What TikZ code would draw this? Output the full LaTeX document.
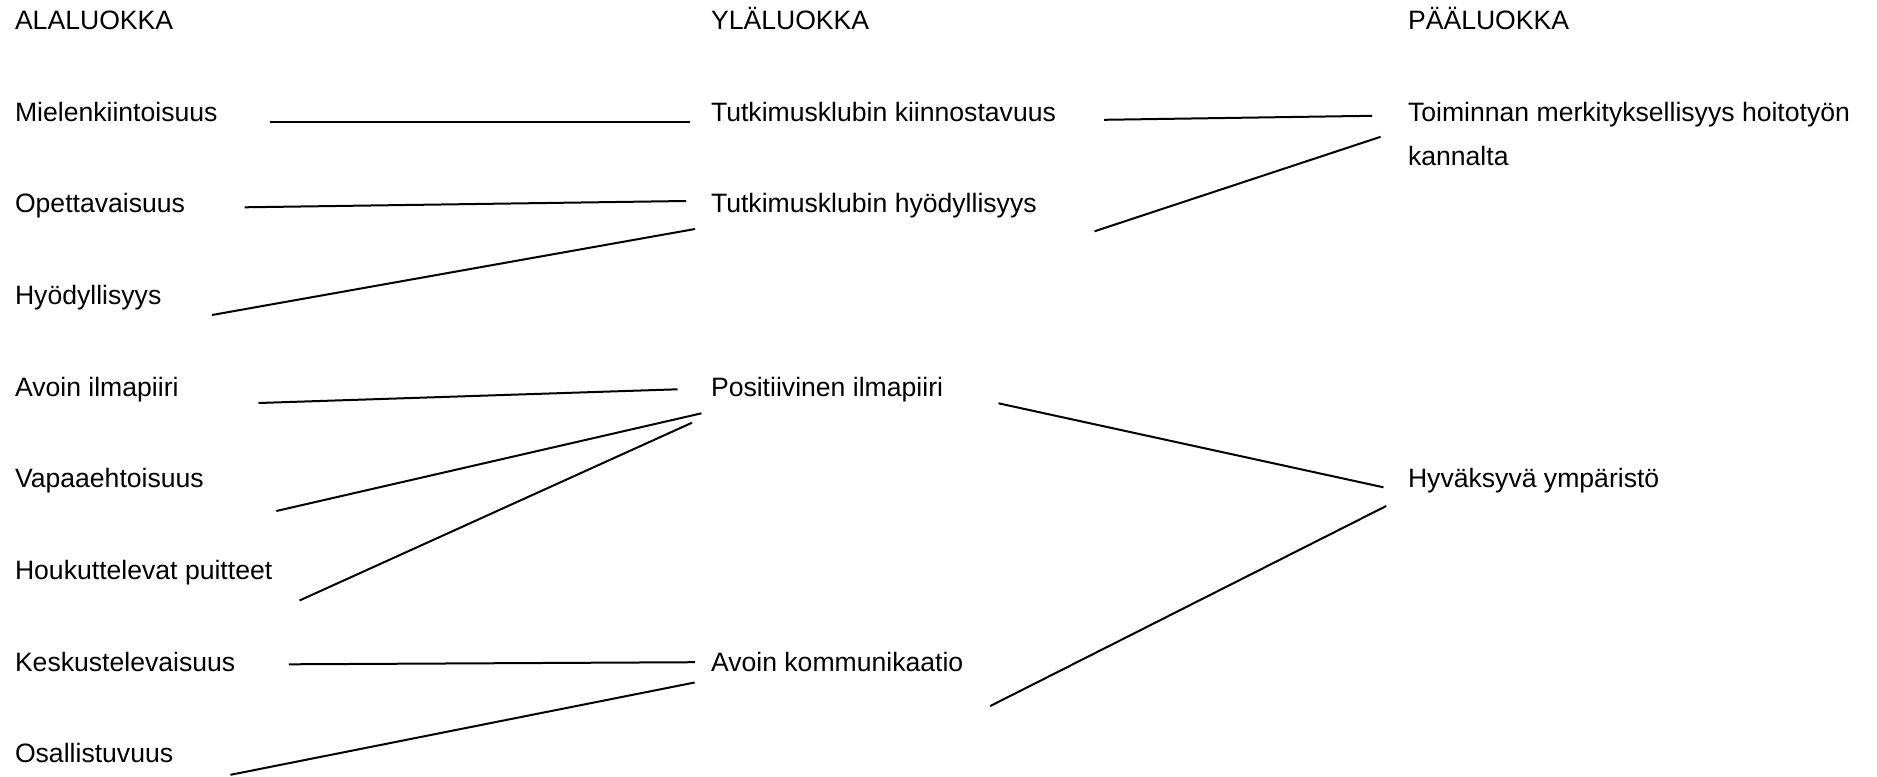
\documentclass[tikz,border=0pt]{standalone}
\usepackage{fontspec}
\setmainfont{Liberation Sans}
\begin{document}
\begin{tikzpicture}[x=0.5pt,y=-0.5pt,
  label/.style={anchor=base west,inner sep=0pt,outer sep=0pt,align=left,
    font=\fontsize{13.3pt}{22.15pt}\selectfont},
  link/.style={line width=1pt,draw=black}]
\useasboundingbox[fill=white] (0,0) rectangle (1877,776);

% column headings
\node[label] (hA) at (15,29.3)   {ALALUOKKA};
\node[label] (hY) at (711,29.3)  {YLÄLUOKKA};
\node[label] (hP) at (1408,29.3) {PÄÄLUOKKA};

% sub-categories
\node[label] (a1) at (15,121)   {Mielenkiintoisuus};
\node[label] (a2) at (15,212.7) {Opettavaisuus};
\node[label] (a3) at (15,304.4) {Hyödyllisyys};
\node[label] (a4) at (15,396.1) {Avoin ilmapiiri};
\node[label] (a5) at (15,487.8) {Vapaaehtoisuus};
\node[label] (a6) at (15,579.5) {Houkuttelevat puitteet};
\node[label] (a7) at (15,671.2) {Keskustelevaisuus};
\node[label] (a8) at (15,762.9) {Osallistuvuus};

% upper categories
\node[label] (y1) at (711,121)   {Tutkimusklubin kiinnostavuus};
\node[label] (y2) at (711,212.7) {Tutkimusklubin hyödyllisyys};
\node[label] (y3) at (711,396.1) {Positiivinen ilmapiiri};
\node[label] (y4) at (711,671.2) {Avoin kommunikaatio};

% main categories (the two-line label sits on the baseline of its last line)
\node[label] (p1) at (1408,165.5) {Toiminnan merkityksellisyys hoitotyön\\kannalta};
\node[label] (p2) at (1408,487.8) {Hyväksyvä ympäristö};

% line end points
\coordinate (a1r) at (270,121.5);   \coordinate (y1a) at (690,121.5);
\coordinate (a2r) at (244.6,207.3); \coordinate (y2a) at (686,201);
\coordinate (a3r) at (212,315);     \coordinate (y2b) at (695,229);
\coordinate (a4r) at (258.5,403);   \coordinate (y3a) at (677.5,389.3);
\coordinate (a5r) at (276.3,511);   \coordinate (y3b) at (701.5,413.3);
\coordinate (a6r) at (299.5,600.5); \coordinate (y3c) at (692,422.7);
\coordinate (a7r) at (288.8,664.3); \coordinate (y4a) at (695.2,662.2);
\coordinate (a8r) at (230.5,774.8); \coordinate (y4b) at (694.6,682.5);
\coordinate (y1r) at (1104,119.8);  \coordinate (p1a) at (1372.2,115.8);
\coordinate (y2r) at (1094.5,231.3);\coordinate (p1b) at (1380.6,136.8);
\coordinate (y3r) at (998.5,403.3); \coordinate (p2a) at (1383.5,487.3);
\coordinate (y4r) at (990.1,706.1); \coordinate (p2b) at (1386.2,506);

% connectors
\draw[link] (a1r) -- (y1a);
\draw[link] (a2r) -- (y2a);
\draw[link] (a3r) -- (y2b);
\draw[link] (a4r) -- (y3a);
\draw[link] (a5r) -- (y3b);
\draw[link] (a6r) -- (y3c);
\draw[link] (a7r) -- (y4a);
\draw[link] (a8r) -- (y4b);
\draw[link] (y1r) -- (p1a);
\draw[link] (y2r) -- (p1b);
\draw[link] (y3r) -- (p2a);
\draw[link] (y4r) -- (p2b);
\end{tikzpicture}
\end{document}
